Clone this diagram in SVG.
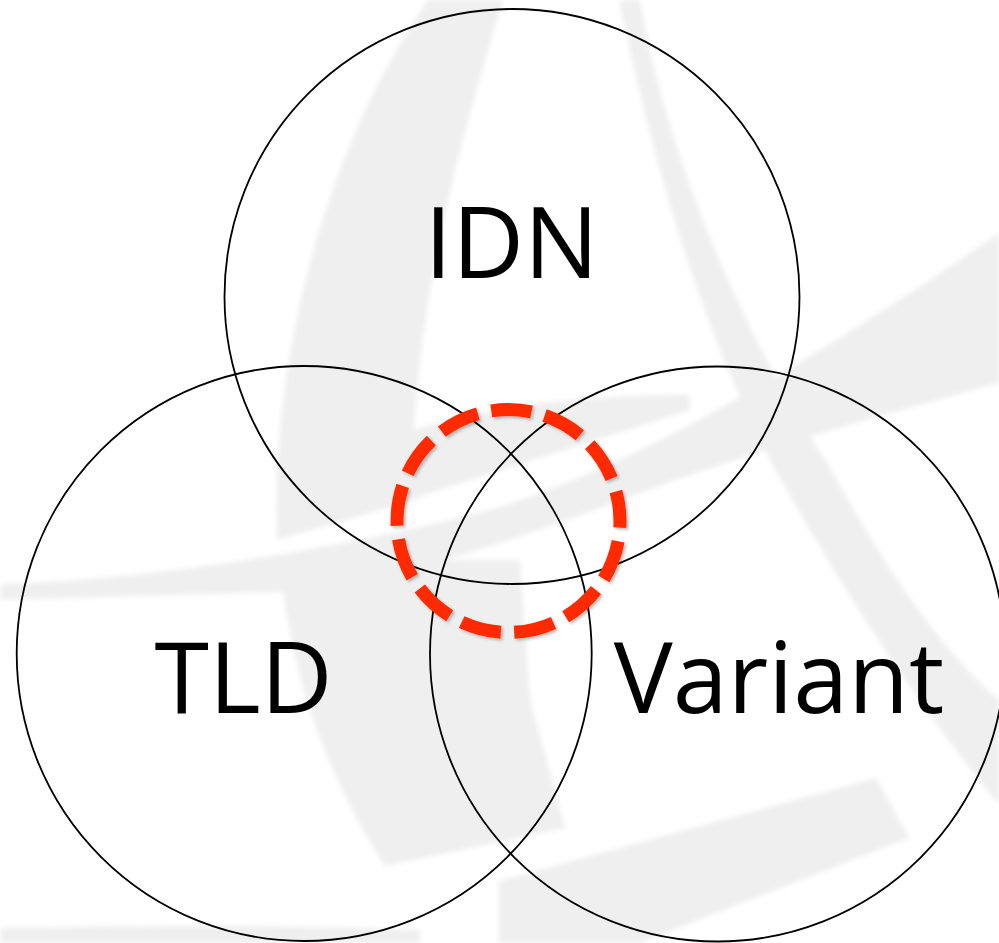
<svg xmlns="http://www.w3.org/2000/svg" width="999" height="943" viewBox="0 0 999 943">
  <defs>
    <filter id="soft" x="-5%" y="-5%" width="110%" height="110%">
      <feGaussianBlur stdDeviation="2.5"/>
    </filter>
    <filter id="shadow" x="-10%" y="-10%" width="120%" height="120%">
      <feDropShadow dx="2" dy="2" stdDeviation="1.5" flood-color="#000" flood-opacity="0.25"/>
    </filter>
  </defs>
  <style>
    .wm { fill: #efefef; stroke: none; }
    .set { fill: none; stroke: #000; stroke-width: 1.8; }
    .lbl { font-family: "Open Sans", "Liberation Sans", sans-serif; font-size: 99px; fill: #000; text-anchor: middle; }
    .focus { fill: none; stroke: #ff2a00; stroke-width: 13; stroke-dasharray: 40.5 13.63; stroke-dashoffset: 33.75; }
  </style>
  <rect width="999" height="943" fill="#ffffff"/>
  <g id="watermark" filter="url(#soft)">
    <path class="wm" d="M428,0 L503,0 C470,110 424,260 414,430 L420,498 L277,540 C270,360 325,150 428,0 Z"/>
    <path class="wm" d="M414,430 C480,410 560,395 690,395 L690,410 L414,498 Z"/>
    <path class="wm" d="M0,584 C150,580 350,548 500,507 C640,462 800,370 999,233 L999,383 C880,415 760,450 670,482 C560,522 420,580 277,592 L0,600 Z"/>
    <path class="wm" d="M280,560 C290,680 330,780 385,866 L565,828 L530,700 L520,560 Z"/>
    <path class="wm" d="M619,0 L640,0 C660,120 720,300 832,471 C880,560 940,650 999,700 L999,805 C930,720 860,620 776,471 C700,330 650,150 619,0 Z"/>
    <path class="wm" d="M499,881 L876,778 L909,838 L639,943 L499,943 Z"/>
    <path class="wm" d="M0,928 C150,925 300,925 420,930 L420,943 L0,943 Z"/>
  </g>
  <g id="node-idn">
    <circle class="set" cx="512" cy="296.5" r="287.5"/>
    <text class="lbl" x="511.5" y="278">IDN</text>
  </g>
  <g id="node-tld">
    <circle class="set" cx="304.2" cy="653.5" r="287.5"/>
    <text class="lbl" x="243.5" y="713">TLD</text>
  </g>
  <g id="node-variant">
    <circle class="set" cx="717.5" cy="654" r="287.5"/>
    <text class="lbl" x="779" y="713">Variant</text>
  </g>
  <g id="node-focus" filter="url(#shadow)">
    <circle class="focus" cx="508.5" cy="521" r="111.5"/>
  </g>
  <g id="connectors"/>
</svg>
